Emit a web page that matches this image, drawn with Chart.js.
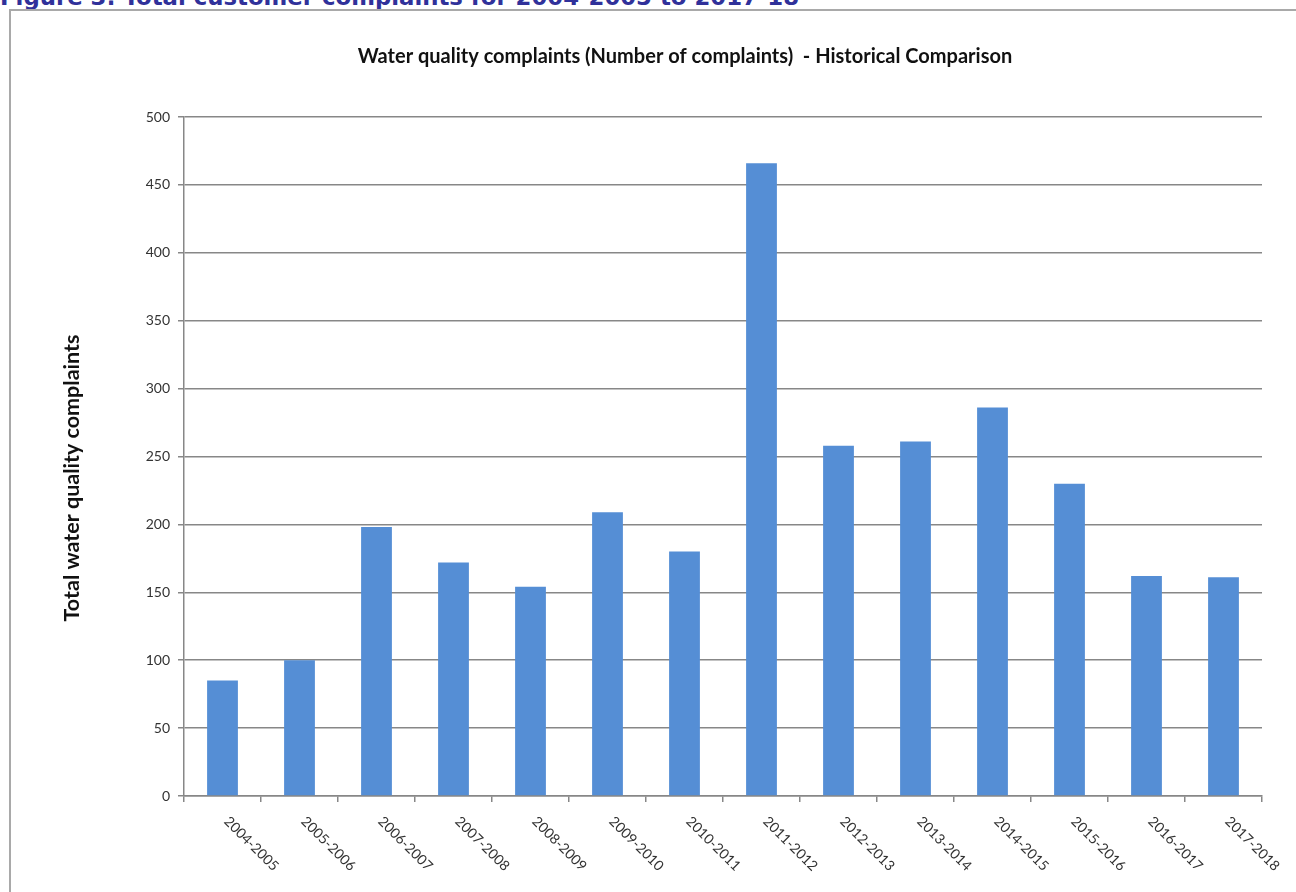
<!DOCTYPE html>
<html>
<head>
<meta charset="utf-8">
<script src="https://cdn.jsdelivr.net/npm/chart.js@4/dist/chart.umd.min.js"></script>
<style>
  html, body { margin: 0; padding: 0; background: #ffffff; overflow: hidden; }
  #page { position: relative; width: 1296px; height: 892px; overflow: hidden; background: #fff; }
  #heading { position: absolute; left: 0px; top: -14px; font-family: "DejaVu Sans", Verdana, sans-serif; font-weight: bold; font-size: 22.8px; line-height: 22.8px; color: #30319a; white-space: nowrap; }
  #frame { position: absolute; left: 9px; top: 9px; width: 1350px; height: 1000px; border: 2px solid #a9a9a9; box-sizing: border-box; }
  #c { position: absolute; left: 0; top: 0; }
</style>
</head>
<body>
<div id="page">
  <div id="heading">Figure 3: Total customer complaints for 2004-2005 to 2017-18</div>
  <div id="frame"></div>
  <canvas id="c" width="1296" height="892"></canvas>
</div>
<script>
const chartTitle = "Water quality complaints (Number of complaints)  - Historical Comparison";
const yAxisTitle = "Total water quality complaints";
const categories = ["2004-2005","2005-2006","2006-2007","2007-2008","2008-2009","2009-2010","2010-2011","2011-2012","2012-2013","2013-2014","2014-2015","2015-2016","2016-2017","2017-2018"];
const complaints = [85, 100, 198, 172, 154, 209, 180, 466, 258, 261, 286, 230, 162, 161];
const yMin = 0, yMax = 500, yStep = 50;

const FONT = "Lato, 'Open Sans', sans-serif";
const GRID = "#878787";
const TEXT = "#333333";

const overlay = {
  id: 'overlay',
  afterDraw(chart) {
    const ctx = chart.ctx;
    const xs = chart.scales.x;
    ctx.save();
    // chart title
    ctx.font = "bold 20px " + FONT;
    ctx.fillStyle = "#111111";
    ctx.textAlign = "center";
    ctx.textBaseline = "middle";
    ctx.fillText(chartTitle, 685, 57);
    // y axis title
    ctx.save();
    ctx.font = "bold 21.5px " + FONT;
    ctx.translate(72.5, 478);
    ctx.rotate(-Math.PI / 2);
    ctx.fillText(yAxisTitle, 0, 0);
    ctx.restore();
    // rotated category labels
    ctx.font = "14px " + FONT;
    ctx.fillStyle = TEXT;
    ctx.textAlign = "left";
    ctx.textBaseline = "middle";
    categories.forEach((c, i) => {
      const x = xs.getPixelForTick(i);
      ctx.save();
      ctx.translate(x + 4, xs.top + 23);
      ctx.rotate(Math.PI / 4);
      ctx.fillText(c, 0, 0);
      ctx.restore();
    });
    ctx.restore();
  }
};

new Chart(document.getElementById('c'), {
  type: 'bar',
  data: {
    labels: categories,
    datasets: [{
      data: complaints,
      backgroundColor: '#558ed5',
      borderWidth: 0,
      categoryPercentage: 1.0,
      barPercentage: 0.4
    }]
  },
  plugins: [overlay],
  options: {
    responsive: false,
    animation: false,
    devicePixelRatio: 1,
    layout: { padding: { left: 61, top: 117, right: 34, bottom: 0 } },
    plugins: {
      legend: { display: false },
      title: { display: false },
      tooltip: { enabled: false }
    },
    scales: {
      x: {
        grid: { display: true, drawOnChartArea: false, drawTicks: true, tickLength: 6, color: GRID, lineWidth: 1.5, offset: true },
        border: { display: true, color: GRID, width: 1.5 },
        ticks: { display: false },
        afterFit(scale) { scale.height = 96; }
      },
      y: {
        min: yMin, max: yMax,
        ticks: { stepSize: yStep, color: TEXT, font: { family: FONT, size: 14 }, padding: 8 },
        grid: { color: GRID, lineWidth: 1.5, drawTicks: true, tickLength: 6 },
        border: { display: true, color: GRID, width: 1.5 },
        title: { display: false },
        afterFit(scale) { scale.width = 123; }
      }
    }
  }
});
</script>
</body>
</html>
